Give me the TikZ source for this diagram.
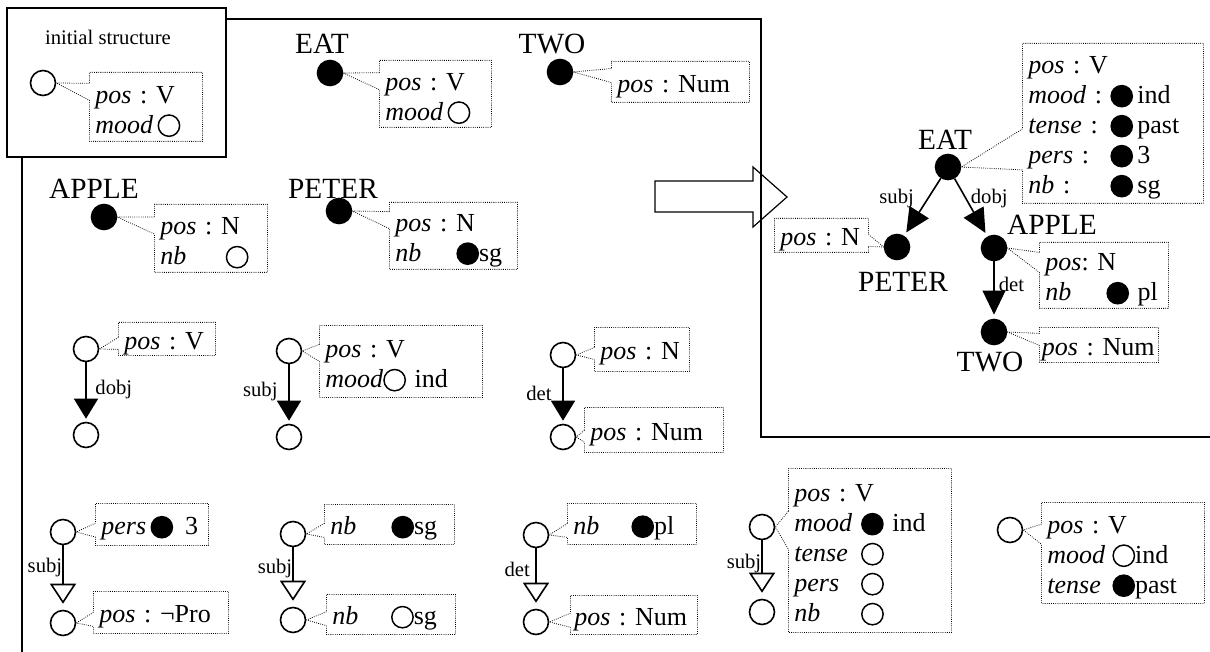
\documentclass[tikz,border=0pt]{standalone}
\usepackage{fontspec}
\setmainfont{Liberation Serif}
\usetikzlibrary{arrows.meta,shapes.callouts}

\newlength\px
\setlength\px{0.75pt}
\newcommand{\ft}[1]{\textit{#1}}
\newcommand{\vfull}{\tikz[baseline=-0.65ex]\fill[solid] (0,0) circle (8.5pt);}
\newcommand{\vempty}{\tikz[baseline=-0.65ex]\draw[solid,line width=1.1pt] (0,0) circle (8pt);}

\begin{document}
\frenchspacing
\begin{tikzpicture}[
    x=0.75pt, y=-0.75pt,
    vtx/.style={circle, draw, line width=1.2pt, minimum size=25\px, inner sep=0pt},
    vfill/.style={vtx, fill},
    word/.style={font=\fontsize{22}{24}\selectfont, inner sep=0pt},
    lbl/.style={font=\fontsize{15.5}{17}\selectfont, inner sep=2pt},
    fs/.style={rectangle callout, draw, densely dotted, line width=0.6pt, anchor=north west,
        inner xsep=6\px, inner ysep=0pt, align=left, font=\fontsize{19.5}{22.5}\selectfont,
        callout pointer width=17\px, execute at begin node={\rule{0pt}{20pt}}},
    dep/.style={-{Triangle[width=18pt,length=15pt]}, line width=1.2pt, shorten >=3\px},
    gen/.style={-{Triangle[open,width=19.5pt,length=15pt]}, line width=1.2pt, shorten >=6\px},
    tree/.style={-{Triangle[width=17pt,length=18pt]}, line width=1.2pt, shorten >=4\px}
]
    \useasboundingbox (0,0) rectangle (1210,652);

    % initial structure
    \draw[line width=0.8pt] (7,8) rectangle (226,157);
    \node[lbl] (initlbl) at (108,37) {initial structure};
    \node[vtx] (ini) at (43,83) {};
    \node[fs, text width=101\px, minimum height=69\px, callout absolute pointer={(ini.east)}] (inifs) at (89,72)
        {\ft{pos} : V\\\ft{mood}\,\vempty};

    % frame
    \draw[line width=0.8pt] (226,19) -- (761,19) -- (761,437) -- (1210,437);
    \draw[line width=0.8pt] (22,157) -- (22,652);

    % lexical entries
    \node[word] (eatw) at (322,44) {EAT};
    \node[vfill] (eat) at (330,73) {};
    \node[fs, text width=100\px, minimum height=67\px, callout absolute pointer={(eat.east)}] (eatfs) at (379,60)
        {\ft{pos} : V\\\ft{mood}\,\vempty};

    \node[word] (twow) at (552,44) {TWO};
    \node[vfill] (two) at (560,72) {};
    \node[fs, text width=126\px, minimum height=41\px, callout pointer width=14\px, callout absolute pointer={(two.east)}] (twofs) at (611,61)
        {\ft{pos} : Num};

    \node[word] (aplw) at (94,189) {APPLE};
    \node[vfill] (apl) at (104,217) {};
    \node[fs, text width=101\px, minimum height=68\px, callout absolute pointer={(apl.east)}] (aplfs) at (154,204)
        {\ft{pos} : N\\\makebox[49pt][l]{\ft{nb}}\vempty};

    \node[word] (petw) at (333,189) {PETER};
    \node[vfill] (pet) at (339,211) {};
    \node[fs, text width=116\px, minimum height=67\px, callout absolute pointer={(pet.east)}] (petfs) at (389,202)
        {\ft{pos} : N\\\makebox[45.75pt][l]{\ft{nb}}\vfull{}sg};

    % dependency rules
    \node[vtx] (d1) at (86,349) {};
    \node[vtx] (d2) at (86,435) {};
    \draw[dep] (d1) -- node[lbl, pos=0.45, right=4.5pt] {dobj} (d2);
    \node[fs, text width=85\px, minimum height=33\px, callout pointer width=12\px, callout absolute pointer={(d1.east)}] (d1fs) at (118,322)
        {\ft{pos} : V};

    \node[vtx] (s1) at (289,351) {};
    \node[vtx] (s2) at (289,437) {};
    \draw[dep] (s1) -- node[lbl, pos=0.45, left=6pt] {subj} (s2);
    \node[fs, text width=151\px, minimum height=72\px, callout absolute pointer={(s1.east)}] (s1fs) at (319,325)
        {\ft{pos} : V\\\ft{mood}\vempty\ ind};

    \node[vtx] (t1) at (563,355) {};
    \node[vtx] (t2) at (563,437) {};
    \draw[dep] (t1) -- node[lbl, pos=0.45, left=6pt] {det} (t2);
    \node[fs, text width=83\px, minimum height=44\px, callout pointer width=12\px, callout absolute pointer={(t1.east)}] (t1fs) at (594,327)
        {\ft{pos} : N};
    \node[fs, text width=127\px, minimum height=45\px, callout pointer width=12\px, callout absolute pointer={(t2.east)}] (t2fs) at (584,407)
        {\ft{pos} : Num};

    % agreement rules
    \node[vtx] (p1) at (63,532) {};
    \node[vtx] (p2) at (63,623) {};
    \draw[gen] (p1) -- node[lbl, pos=0.35, left, inner sep=0pt] {subj} (p2);
    \node[fs, text width=101\px, minimum height=42\px, callout pointer width=14\px, callout absolute pointer={(p1.east)}] (p1fs) at (95,503)
        {\ft{pers}\,\vfull\hspace{9pt}3};
    \node[fs, text width=123\px, minimum height=42\px, callout pointer width=14\px, callout absolute pointer={(p2.east)}] (p2fs) at (93,591)
        {\ft{pos} : ¬Pro};

    \node[vtx] (n1) at (293,534) {};
    \node[vtx] (n2) at (293,620) {};
    \draw[gen] (n1) -- node[lbl, pos=0.35, left, inner sep=0pt] {subj} (n2);
    \node[fs, text width=118\px, minimum height=40\px, callout pointer width=14\px, callout absolute pointer={(n1.east)}] (n1fs) at (324,504)
        {\makebox[45.75pt][l]{\ft{nb}}\vfull{}sg};
    \node[fs, text width=117\px, minimum height=40\px, callout pointer width=14\px, callout absolute pointer={(n2.east)}] (n2fs) at (326,594)
        {\makebox[44pt][l]{\ft{nb}}\vempty{}sg};

    \node[vtx] (q1) at (536,535) {};
    \node[vtx] (q2) at (536,622) {};
    \draw[gen] (q1) -- node[lbl, pos=0.35, left=4pt, inner sep=0pt] {det} (q2);
    \node[fs, text width=117\px, minimum height=41\px, callout pointer width=14\px, callout absolute pointer={(q1.east)}] (q1fs) at (567,503)
        {\makebox[43.5pt][l]{\ft{nb}}\vfull{}pl};
    \node[fs, inner xsep=4\px, text width=119\px, minimum height=39\px, callout pointer width=14\px, callout absolute pointer={(q2.east)}] (q2fs) at (570,595)
        {\ft{pos} : Num};

    \node[vtx] (r1) at (762,527) {};
    \node[vtx] (r2) at (762,612) {};
    \draw[gen] (r1) -- node[lbl, pos=0.4, left, inner sep=0pt] {subj} (r2);
    \node[fs, text width=151\px, minimum height=164\px, callout pointer width=38\px, callout absolute pointer={(r1.east)}, execute at begin node={\rule{0pt}{17pt}}] (r1fs) at (788,468)
        {\ft{pos} : V\\\makebox[50pt][l]{\ft{mood}}\vfull\ ind\\\makebox[50pt][l]{\ft{tense}}\vempty\\
         \makebox[50pt][l]{\ft{pers}}\vempty\\\makebox[50pt][l]{\ft{nb}}\vempty};

    \node[vtx] (u1) at (1010,530) {};
    \node[fs, text width=151\px, minimum height=101\px, callout pointer width=20\px, callout absolute pointer={(u1.east)}] (u1fs) at (1041,502)
        {\ft{pos} : V\\\makebox[48.75pt][l]{\ft{mood}}\vempty{}ind\\\makebox[48.75pt][l]{\ft{tense}}\vfull{}past};

    % big arrow
    \draw[line width=0.9pt] (655,181) -- (753,181) -- (753,167) -- (787,197) -- (753,227) -- (753,212) -- (655,212) -- cycle;

    % result
    \node[vfill] (e) at (948,167) {};
    \node[word] (ew) at (945,140) {EAT};
    \node[vfill] (pe) at (897,247) {};
    \node[word] (pew) at (903,282) {PETER};
    \node[vfill] (ap) at (994,248) {};
    \node[word] (apw) at (1052,225) {APPLE};
    \node[vfill] (tw) at (994,332) {};
    \node[word] (tww) at (990,362) {TWO};

    \draw[tree] (e) -- node[lbl, pos=0.35, left=8pt] {subj} (pe);
    \draw[tree] (e) -- node[lbl, pos=0.35, right=1pt] {dobj} (ap);
    \draw[tree] (ap) -- node[lbl, pos=0.4, right=1pt] {det} (tw);

    \node[fs, text width=169\px, minimum height=160\px, callout pointer width=41\px, callout absolute pointer={(e.east)}, execute at begin node={}] (efs) at (1022,43)
        {\ft{pos} : V\\\makebox[61.5pt][l]{\ft{mood} :}\vfull\,ind\\\makebox[61.5pt][l]{\ft{tense} :}\vfull\,past\\
         \makebox[61.5pt][l]{\ft{pers} :}\vfull\,3\\\makebox[61.5pt][l]{\ft{nb} :}\vfull\,sg};
    \node[fs, text width=82\px, minimum height=34\px, callout pointer width=12\px, callout absolute pointer={(pe.west)}] (pefs) at (774,218)
        {\ft{pos} : N};
    \node[fs, text width=117\px, minimum height=66\px, callout pointer width=20\px, callout absolute pointer={(ap.east)}] (apfs) at (1039,242)
        {\ft{pos}: N\\\makebox[45.75pt][l]{\ft{nb}}\vfull\ pl};
    \node[fs, inner xsep=2.5\px, text width=114\px, minimum height=35\px, callout pointer width=12\px, callout absolute pointer={(tw.east)}] (twfs) at (1039,327)
        {\ft{pos} : Num};
\end{tikzpicture}
\end{document}
